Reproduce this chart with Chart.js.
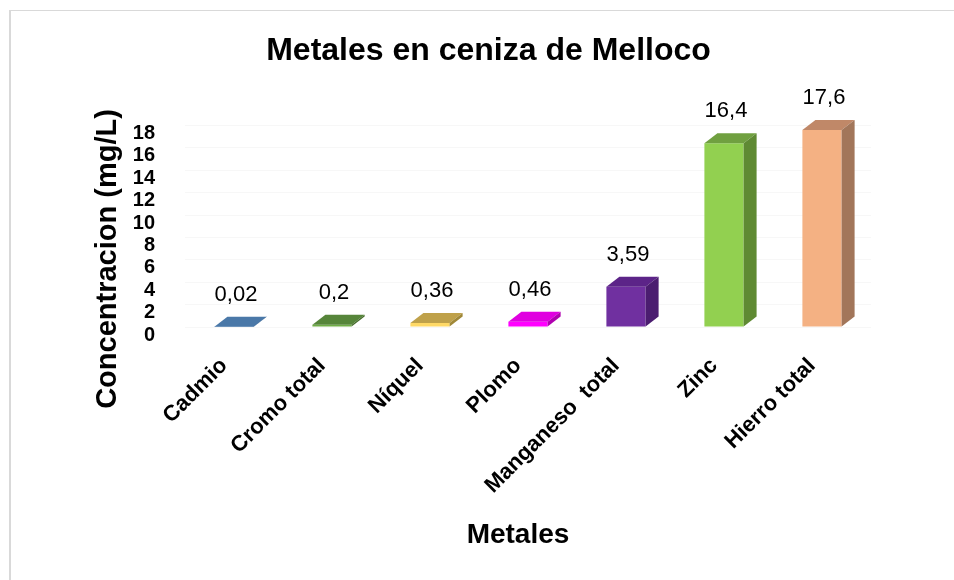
<!DOCTYPE html>
<html>
<head>
<meta charset="utf-8">
<script src="https://cdn.jsdelivr.net/npm/chart.js@4.4.0/dist/chart.umd.min.js"></script>
<style>
  html, body { margin: 0; padding: 0; background: #fff; overflow: hidden; }
  #wrap { width: 954px; height: 580px; position: relative; }
</style>
</head>
<body>
<div id="wrap"><canvas id="chart"></canvas></div>
<script>
var metales = ['Cadmio', 'Cromo total', 'Níquel', 'Plomo', 'Manganeso  total', 'Zinc', 'Hierro total'];
var concentracion = [0.02, 0.2, 0.36, 0.46, 3.59, 16.4, 17.6];
var yTicks = [0, 2, 4, 6, 8, 10, 12, 14, 16, 18];

// front / top / side colours of each 3D bar
var frontColors = ['#4f81bd', '#70ad47', '#ffd966', '#ff00ff', '#7030a0', '#92d050', '#f4b183'];
var topColors   = ['#4a78a8', '#56853a', '#bfa14a', '#e000e0', '#5c2488', '#70a040', '#c08868'];
var sideColors  = ['#3a6390', '#466d2c', '#a08838', '#b000b0', '#4b1d70', '#5f8a33', '#a2765a'];

var FONT = "'Liberation Sans', Arial, sans-serif";
var DX = 13, DY = -10;

var frame = {
    id: 'frame',
    beforeDraw: function(chart) {
        var ctx = chart.ctx;
        ctx.save();
        ctx.fillStyle = '#fff';
        ctx.fillRect(0, 0, chart.width, chart.height);
        ctx.fillStyle = '#d9d9d9';
        ctx.fillRect(9, 10, 2, chart.height - 10);
        ctx.fillRect(9, 10, chart.width - 9, 1);
        ctx.restore();
    }
};

var bars3d = {
    id: 'bars3d',
    afterDatasetsDraw: function(chart) {
        var ctx = chart.ctx;
        var meta = chart.getDatasetMeta(0);
        ctx.save();
        meta.data.forEach(function(bar, i) {
            var p = bar.getProps(['x', 'y', 'base', 'width'], true);
            var l = p.x - p.width / 2, r = p.x + p.width / 2;
            // top face
            ctx.fillStyle = topColors[i];
            ctx.beginPath();
            ctx.moveTo(l, p.y);
            ctx.lineTo(r, p.y);
            ctx.lineTo(r + DX, p.y + DY);
            ctx.lineTo(l + DX, p.y + DY);
            ctx.closePath();
            ctx.fill();
            // side face
            ctx.fillStyle = sideColors[i];
            ctx.beginPath();
            ctx.moveTo(r, p.y);
            ctx.lineTo(r + DX, p.y + DY);
            ctx.lineTo(r + DX, p.base + DY);
            ctx.lineTo(r, p.base);
            ctx.closePath();
            ctx.fill();
            // value label
            ctx.fillStyle = '#000';
            ctx.font = '22px ' + FONT;
            ctx.textAlign = 'center';
            ctx.textBaseline = 'middle';
            ctx.fillText(String(concentracion[i]).replace('.', ','), p.x + 2, p.y + DY - 22);
        });
        ctx.restore();
    }
};

var axisTitles = {
    id: 'axisTitles',
    afterDraw: function(chart) {
        var ctx = chart.ctx;
        ctx.save();
        ctx.fillStyle = '#000';
        ctx.textAlign = 'center';
        ctx.textBaseline = 'alphabetic';
        ctx.font = 'bold 28px ' + FONT;
        ctx.fillText('Metales', 518, 543);
        ctx.translate(116, 259);
        ctx.rotate(-Math.PI / 2);
        ctx.font = 'bold 29px ' + FONT;
        ctx.fillText('Concentracion (mg/L)', 0, 0);
        ctx.restore();
    }
};

new Chart(document.getElementById('chart'), {
    type: 'bar',
    data: {
        labels: metales,
        datasets: [{
            data: concentracion,
            backgroundColor: frontColors,
            borderWidth: 0,
            barPercentage: 0.4,
            categoryPercentage: 1.0
        }]
    },
    options: {
        responsive: true,
        maintainAspectRatio: false,
        animation: false,
        layout: { padding: { left: 106, right: 83, top: 0, bottom: 0 } },
        scales: {
            x: {
                grid: { display: false },
                border: { display: false },
                ticks: {
                    color: '#000',
                    font: { family: FONT, size: 22, weight: 'bold' },
                    minRotation: 45,
                    maxRotation: 45,
                    padding: 18,
                    labelOffset: -10,
                    autoSkip: false
                },
                afterFit: function(axis) { axis.height = 253; }
            },
            y: {
                min: 0,
                max: 18,
                grid: { color: '#f7f7f7', drawTicks: false },
                border: { display: false },
                ticks: {
                    color: '#000',
                    font: { family: FONT, size: 20, weight: 'bold' },
                    padding: 30,
                    labelOffset: 8,
                    autoSkip: false
                },
                afterBuildTicks: function(axis) {
                    axis.ticks = yTicks.map(function(v) { return { value: v }; });
                },
                afterFit: function(axis) { axis.width = 79; }
            }
        },
        plugins: {
            legend: { display: false },
            tooltip: { enabled: false },
            title: {
                display: true,
                text: 'Metales en ceniza de Melloco',
                color: '#000',
                font: { family: FONT, size: 32, weight: 'bold' },
                padding: { top: 32, bottom: 55 }
            }
        }
    },
    plugins: [frame, bars3d, axisTitles]
});
</script>
</body>
</html>
